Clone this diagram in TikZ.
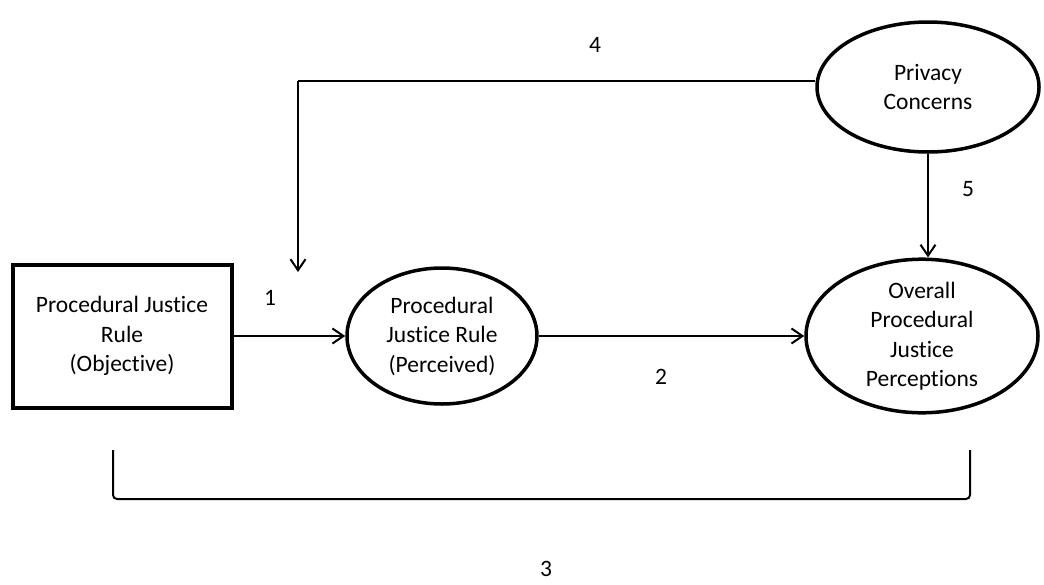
\documentclass[tikz,border=0pt]{standalone}
\usepackage{fontspec}
\setmainfont{Carlito}[Ligatures=NoCommon]
\usepackage{tikz}
\usetikzlibrary{shapes.geometric, arrows.meta}

\begin{document}
\begin{tikzpicture}[
                x=1pt, y=-1pt, % pixel-like units
                every node/.style={font=\fontsize{23.5}{29.5}\selectfont}, % Text size
                construct/.style={ellipse, draw, line width=3.5pt, inner sep=0pt, align=center}, % Ellipse for nodes
                measured/.style={rectangle, draw, line width=4pt, inner sep=0pt, align=center}, % Box for objective rule
                link/.style={line width=2pt, -{Straight Barb[length=11pt, width=15pt]}} % Arrows between nodes
                ]
                \useasboundingbox (0,0) rectangle (1044,584);
                \node[measured, minimum width=219pt, minimum height=143pt] (objective) at (122,336) {Procedural Justice\\Rule\\(Objective)};
                \node[construct, minimum width=190pt, minimum height=136pt] (perceived) at (442,336) {Procedural\\Justice Rule\\(Perceived)};
                \node[construct, minimum width=232pt, minimum height=147pt] (overall) at (922,336) {Overall\\Procedural\\Justice\\Perceptions};
                \node[construct, minimum width=222pt, minimum height=130pt] (privacy) at (928,87) {Privacy\\Concerns};
                \coordinate (corner) at (298,81);
                \coordinate (target) at (298,272);
                \draw[link] (objective) -- (perceived);
                \draw[link] (perceived) -- (overall);
                \draw[link] (privacy.south) -- (privacy.south |- overall.north);
                \draw[line width=2pt] (privacy.west |- corner) -- (corner);
                \draw[link] (corner) -- (target);
                % bracket under the model
                \draw[line width=2pt, rounded corners=4pt] (113,450) -- (113,499) -- (970,499) -- (970,450);
                \node (one) at (270,298) {1};
                \node (two) at (661,377) {2};
                \node (three) at (546,569) {3};
                \node (four) at (595,45) {4};
                \node (five) at (968,189) {5};
            \end{tikzpicture}
\end{document}
